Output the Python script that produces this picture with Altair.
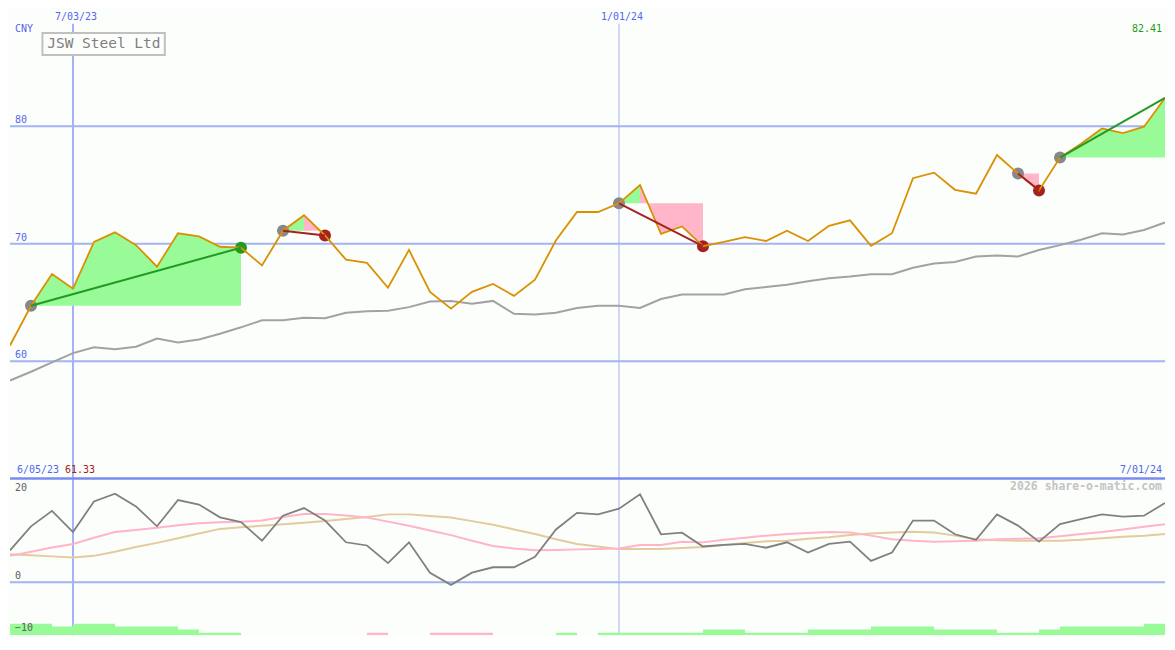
import altair as alt
import pandas as pd

# ---------------- data ----------------
price = [61.33, 64.72, 67.41, 66.17, 70.15, 70.97, 69.88, 68.04, 70.89, 70.62,
         69.74, 69.66, 68.15, 71.11, 72.43, 70.70, 68.64, 68.37, 66.25, 69.47,
         65.90, 64.47, 65.90, 66.58, 65.56, 66.94, 70.29, 72.70, 72.70, 73.44,
         75.00, 70.84, 71.47, 69.79, 70.15, 70.56, 70.23, 71.11, 70.23, 71.52,
         71.99, 69.82, 70.89, 75.58, 76.05, 74.59, 74.26, 77.55, 75.97, 74.54,
         77.33, 78.52, 79.81, 79.42, 79.96, 82.41]
ma = [58.35, 59.10, 59.90, 60.68, 61.18, 61.01, 61.23, 61.92, 61.59, 61.84,
      62.33, 62.88, 63.48, 63.48, 63.70, 63.65, 64.12, 64.25, 64.30, 64.60,
      65.07, 65.13, 64.88, 65.13, 64.03, 63.98, 64.12, 64.53, 64.72, 64.72,
      64.53, 65.29, 65.68, 65.68, 65.68, 66.12, 66.31, 66.50, 66.80, 67.05,
      67.20, 67.40, 67.40, 67.95, 68.31, 68.45, 68.91, 68.99, 68.91, 69.47,
      69.88, 70.34, 70.89, 70.78, 71.17, 71.81]
osc = [6.17, 10.8, 13.77, 9.69, 15.6, 17.1, 14.63, 10.8, 15.86, 15.0,
       12.53, 11.6, 8.02, 12.84, 14.32, 11.91, 7.72, 7.1, 3.7, 7.72,
       1.85, -0.5, 1.85, 2.9, 2.9, 4.94, 10.19, 13.4, 13.09, 14.2,
       16.98, 9.26, 9.57, 6.91, 7.22, 7.4, 6.67, 7.72, 5.74, 7.4,
       7.84, 4.13, 5.74, 11.9, 11.9, 9.26, 8.2, 13.1, 10.93, 7.84,
       11.23, 12.16, 13.09, 12.65, 12.84, 15.3]
osc_pink = [5.1, 5.9, 6.7, 7.4, 8.6, 9.7, 10.1, 10.5, 11.0, 11.4,
            11.6, 11.7, 11.9, 12.6, 13.15, 13.15, 12.9, 12.5, 11.7, 10.9,
            10.0, 9.1, 8.0, 7.0, 6.5, 6.2, 6.25, 6.35, 6.4, 6.5,
            7.2, 7.2, 7.8, 7.7, 8.2, 8.6, 9.0, 9.3, 9.5, 9.7,
            9.6, 9.0, 8.3, 8.0, 7.8, 7.9, 8.0, 8.3, 8.4, 8.5,
            8.9, 9.3, 9.7, 10.2, 10.7, 11.2]
osc_tan = [5.4, 5.2, 5.0, 4.8, 5.1, 5.9, 6.8, 7.6, 8.5, 9.4,
           10.3, 10.6, 10.9, 11.2, 11.5, 11.8, 12.2, 12.6, 13.1, 13.1,
           12.8, 12.5, 11.8, 11.1, 10.2, 9.3, 8.3, 7.4, 6.9, 6.4,
           6.4, 6.4, 6.6, 6.8, 7.2, 7.6, 7.9, 8.0, 8.4, 8.7,
           9.1, 9.4, 9.6, 9.75, 9.6, 9.0, 8.3, 8.1, 8.0, 8.0,
           8.0, 8.2, 8.5, 8.8, 9.0, 9.3]
# weekly histogram (height above the panel floor; negative = pink)
hist = [2.2, 2.2, 1.7, 2.2, 2.2, 1.7, 1.7, 1.7, 1.1, 0.45,
        0.45, 0, 0, 0, 0, 0, 0, -0.45, 0, 0,
        -0.45, -0.45, -0.45, 0, 0, 0, 0.45, 0, 0.45, 0.45,
        0.45, 0.45, 0.45, 1.1, 1.1, 0.45, 0.45, 0.45, 1.1, 1.1,
        1.1, 1.7, 1.7, 1.7, 1.1, 1.1, 1.1, 0.45, 0.45, 1.1,
        1.7, 1.7, 1.7, 1.7, 2.2]
entries = [1, 13, 29, 48, 50]
exits = [11, 15, 33, 49, 55]
marker_idx = [3, 29]
marker_labels = ["7/03/23", "1/01/24"]
marker_width = [2, 1]
main_grid = [60, 70, 80]
osc_label_vals = [20, 0, -10]
title = "JSW Steel Ltd"
currency = "CNY"
start_label = "6/05/23"
end_label = "7/01/24"
watermark = "2026 share-o-matic.com"

# ---------------- styling ----------------
W, H1, H2 = 1158, 471, 157
sx, sy1, sy2 = W / 1175, H1 / 487, H2 / 163
FONT = "DejaVu Sans Mono"
BG = "#fcfefc"
GRID = "#a3b3f3"
SEP = "#7a8af0"
BLUE_TXT = "#5566ee"
PRICE = "#da9000"
MA = "#a2a2a2"
OSC = "#808080"
OSC_PINK = "#ffb4c8"
OSC_TAN = "#e2cc9c"
GREEN_FILL = "#98fb98"
PINK_FILL = "#ffb6c8"
GREEN_LINE = "#229a22"
RED_LINE = "#a52222"
GRAY_DOT = "#888888"

n = len(price)
idx = list(range(n))
XS = alt.Scale(domain=[0, n - 1], nice=False, zero=False)
YM = alt.Scale(domain=[50, 90], nice=False, zero=False)
YO = alt.Scale(domain=[-10.2, 20], nice=False, zero=False)


def X(f):
    return alt.X(f, type="quantitative", scale=XS, axis=None)


def YMain(f):
    return alt.Y(f, type="quantitative", scale=YM, axis=None)


def YOsc(f):
    return alt.Y(f, type="quantitative", scale=YO, axis=None)


df_main = pd.DataFrame({"i": idx, "price": price, "ma": ma})
df_osc = pd.DataFrame({"i": idx, "osc": osc, "pink": osc_pink, "tan": osc_tan})
df_mark = pd.DataFrame({"i": marker_idx, "lab": marker_labels, "w": marker_width})

fill_rows, trade_rows, dot_rows = [], [], []
for t, (a, b) in enumerate(zip(entries, exits)):
    level = price[a]
    win = price[b] > level
    seg = price[a:b + 1]
    peak = a + seg.index(max(seg))
    parts = [(a, b, GREEN_FILL)] if win else [(a, peak, GREEN_FILL), (peak, b, PINK_FILL)]
    for k, (s, e, col) in enumerate(parts):
        if e > s:
            for j in range(s, e + 1):
                fill_rows.append({"seg": f"{t}-{k}", "i": j, "p": price[j], "lvl": level, "c": col})
    lc = GREEN_LINE if win else RED_LINE
    trade_rows += [{"t": t, "i": a, "p": price[a], "c": lc}, {"t": t, "i": b, "p": price[b], "c": lc}]
    dot_rows.append({"i": a, "p": level, "c": GRAY_DOT})
    if b != n - 1:
        dot_rows.append({"i": b, "p": price[b], "c": lc})
df_fill = pd.DataFrame(fill_rows)
df_trade = pd.DataFrame(trade_rows)
df_dot = pd.DataFrame(dot_rows)

floor = -10.2
df_hist = pd.DataFrame([
    {"i": i, "i2": i + 1, "b": floor, "t": floor + abs(h), "c": GREEN_FILL if h > 0 else PINK_FILL}
    for i, h in enumerate(hist) if h != 0
])

one = pd.DataFrame({"a": [0]})

# ---------------- main panel ----------------
grid_main = alt.Chart(pd.DataFrame({"v": main_grid})).mark_rule(color=GRID, strokeWidth=2).encode(y=YMain("v"))
vrules_main = alt.Chart(df_mark).mark_rule(color=GRID).encode(
    x=X("i"), y=alt.value(15.5 * sy1), y2=alt.value(H1),
    strokeWidth=alt.StrokeWidth("w:Q", scale=None))
fills = alt.Chart(df_fill).mark_area(clip=True, opacity=1).encode(
    x=X("i"), y=YMain("p"), y2=alt.Y2("lvl"),
    fill=alt.Fill("c:N", scale=None), detail="seg:N")
ma_line = alt.Chart(df_main).mark_line(color=MA, strokeWidth=2, clip=True).encode(x=X("i"), y=YMain("ma"))
dots = alt.Chart(df_dot).mark_circle(size=145, opacity=1).encode(
    x=X("i"), y=YMain("p"), color=alt.Color("c:N", scale=None))
price_line = alt.Chart(df_main).mark_line(color=PRICE, strokeWidth=1.8, clip=True).encode(x=X("i"), y=YMain("price"))
trades = alt.Chart(df_trade).mark_line(strokeWidth=2, clip=True).encode(
    x=X("i"), y=YMain("p"), color=alt.Color("c:N", scale=None), detail="t:N")

grid_lbl = alt.Chart(pd.DataFrame({"v": main_grid})).mark_text(
    align="left", baseline="alphabetic", dy=-3, font=FONT, fontSize=10, color=BLUE_TXT
).encode(x=alt.value(5), y=YMain("v"), text=alt.Text("v:Q", format="d"))
mark_lbl = alt.Chart(df_mark).mark_text(
    align="center", baseline="middle", dx=3, font=FONT, fontSize=10, color=BLUE_TXT
).encode(x=X("i"), y=alt.value(8 * sy1), text="lab:N")
cny = alt.Chart(one).mark_text(align="left", baseline="middle", font=FONT, fontSize=10,
                               color=BLUE_TXT, text=currency).encode(x=alt.value(5), y=alt.value(21 * sy1))
last_lbl = alt.Chart(one).mark_text(align="right", baseline="middle", font=FONT, fontSize=10,
                                    color=GREEN_LINE, text=f"{price[-1]:.2f}").encode(
    x=alt.value(W - 3), y=alt.value(20.5 * sy1))
start_lbl = alt.Chart(one).mark_text(align="left", baseline="middle", font=FONT, fontSize=10,
                                     color=BLUE_TXT, text=start_label).encode(
    x=alt.value(7 * sx), y=alt.value(478 * sy1))
start_price = alt.Chart(one).mark_text(align="left", baseline="middle", font=FONT, fontSize=10,
                                       color="#aa1a1a", text=f"{price[0]:.2f}").encode(
    x=alt.value(56 * sx), y=alt.value(478 * sy1))
end_lbl = alt.Chart(one).mark_text(align="right", baseline="middle", font=FONT, fontSize=10,
                                   color=BLUE_TXT, text=end_label).encode(
    x=alt.value(W - 3), y=alt.value(478 * sy1))
title_box = alt.Chart(one).mark_rect(fill=BG, stroke="#c0c0c0", strokeWidth=2).encode(
    x=alt.value(33 * sx), x2=alt.value(157.5 * sx), y=alt.value(25 * sy1), y2=alt.value(48 * sy1))
title_txt = alt.Chart(one).mark_text(align="center", baseline="middle", font=FONT, fontSize=14.5,
                                     color="#808080", text=title).encode(
    x=alt.value(95.5 * sx), y=alt.value(36.5 * sy1))

main = alt.layer(
    grid_main, vrules_main, fills, ma_line, dots, price_line, trades,
    grid_lbl, mark_lbl, cny, last_lbl, start_lbl, start_price, end_lbl, title_box, title_txt
).properties(width=W, height=H1)

# ---------------- oscillator panel ----------------
grid_osc = alt.Chart(pd.DataFrame({"v": [0]})).mark_rule(color=GRID, strokeWidth=2).encode(y=YOsc("v"))
sep = alt.Chart(pd.DataFrame({"v": [20]})).mark_rule(color=SEP, strokeWidth=2.5).encode(y=YOsc("v"))
vrules_osc = alt.Chart(df_mark).mark_rule(color=GRID).encode(
    x=X("i"), y=alt.value(0), y2=alt.value(H2),
    strokeWidth=alt.StrokeWidth("w:Q", scale=None))
bars = alt.Chart(df_hist).mark_rect(clip=True).encode(
    x=X("i"), x2=alt.X2("i2"), y=YOsc("b"), y2=alt.Y2("t"),
    fill=alt.Fill("c:N", scale=None))
tan_line = alt.Chart(df_osc).mark_line(color=OSC_TAN, strokeWidth=2, clip=True).encode(x=X("i"), y=YOsc("tan"))
pink_line = alt.Chart(df_osc).mark_line(color=OSC_PINK, strokeWidth=2, clip=True).encode(x=X("i"), y=YOsc("pink"))
osc_line = alt.Chart(df_osc).mark_line(color=OSC, strokeWidth=1.8, clip=True).encode(x=X("i"), y=YOsc("osc"))
osc_lbls = [
    alt.Chart(pd.DataFrame({"v": [v]})).mark_text(
        align="left", baseline="middle", font=FONT, fontSize=10, color="#606060", dy=d
    ).encode(x=alt.value(5), y=YOsc("v"), text=alt.Text("v:Q", format="d"))
    for v, d in zip(osc_label_vals, [9, -6, -6])
]
wm = alt.Chart(one).mark_text(align="right", baseline="middle", font=FONT, fontSize=11.5, fontWeight="bold",
                              color="#c4c4c4", text=watermark).encode(
    x=alt.value(W - 3), y=alt.value(9 * sy2))

bottom = alt.layer(
    grid_osc, vrules_osc, bars, tan_line, pink_line, osc_line, sep, *osc_lbls, wm
).properties(width=W, height=H2)

chart = alt.vconcat(main, bottom, spacing=0, bounds="flush").properties(
    padding=0, background=BG
).configure_view(stroke=None)

chart.save("out.html", embed_options={"renderer": "svg", "actions": False})
